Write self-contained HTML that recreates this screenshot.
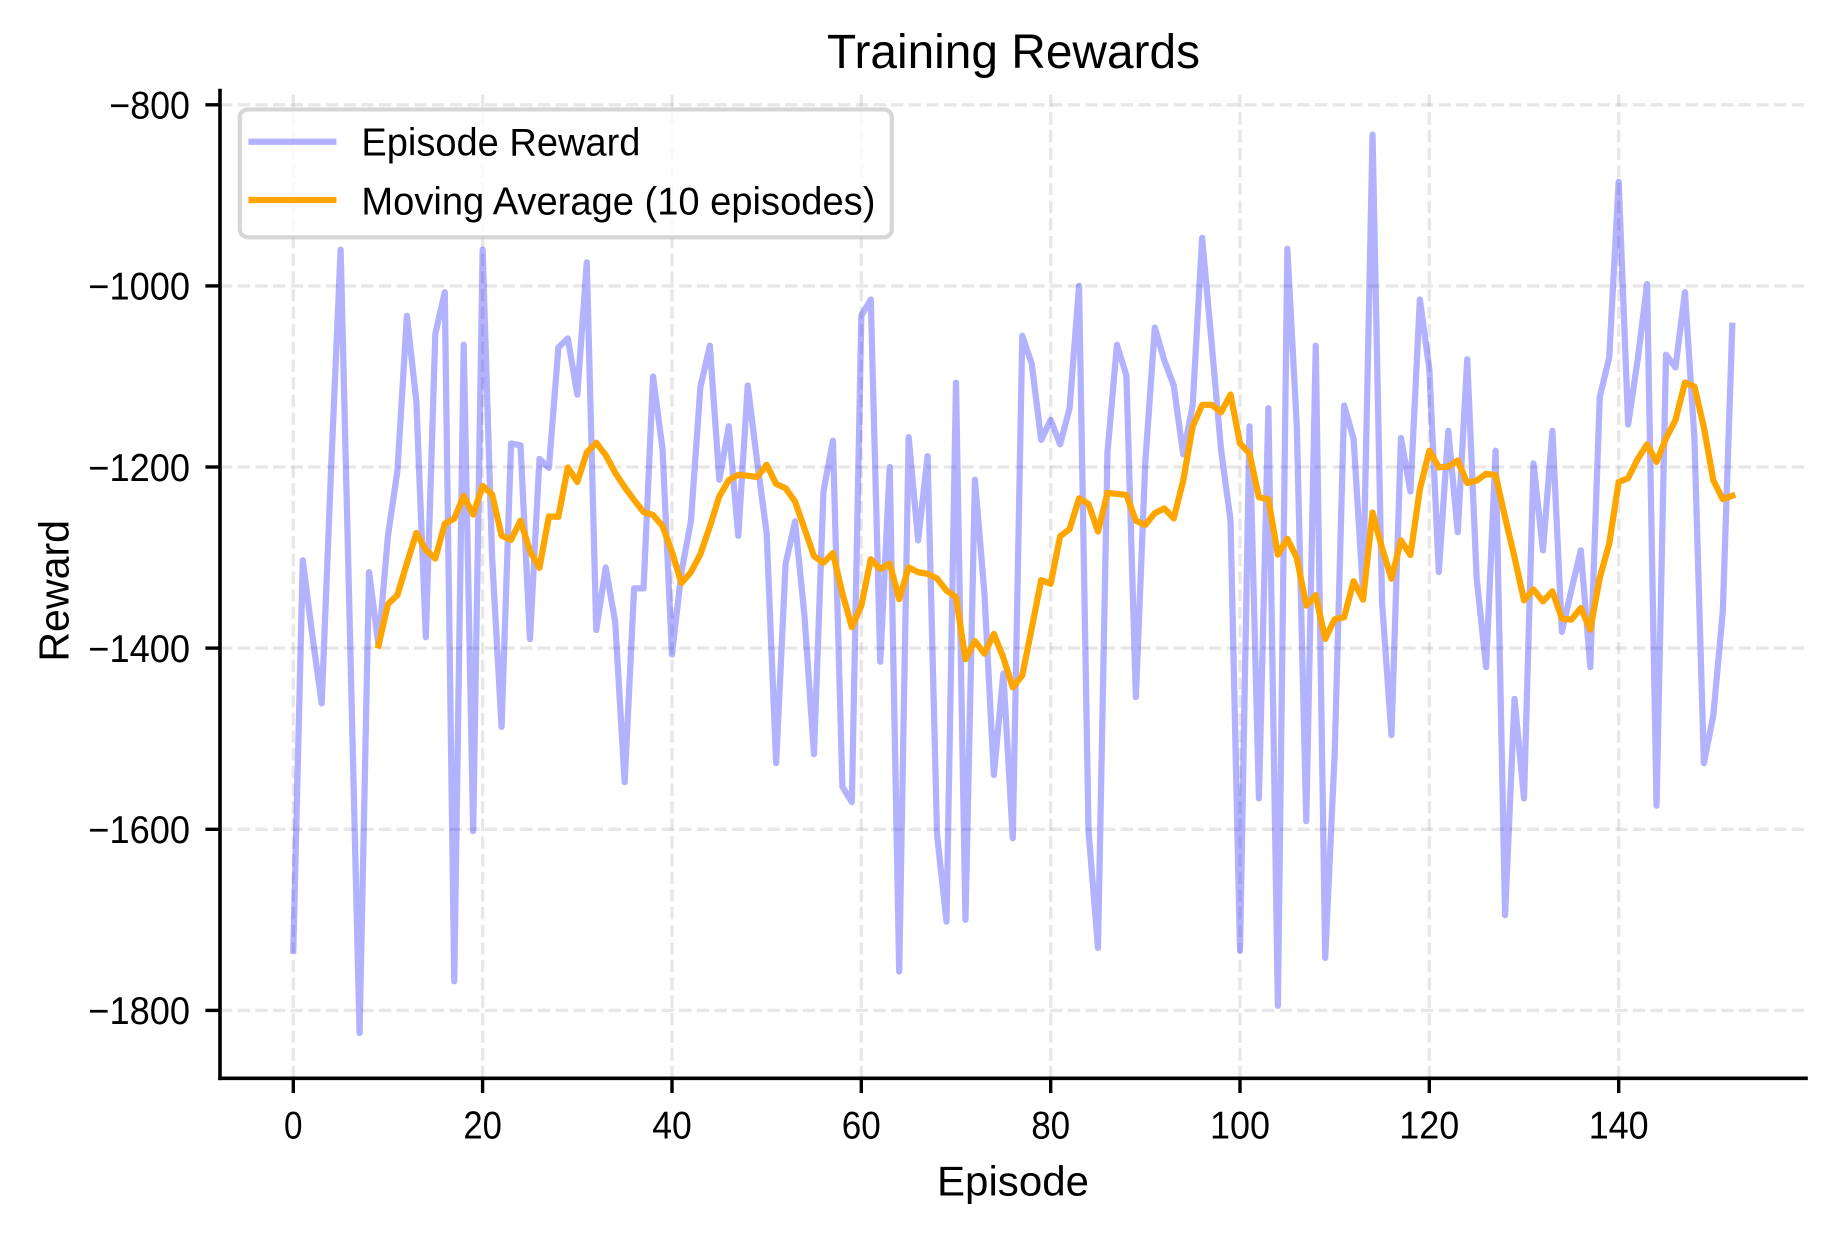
<!DOCTYPE html>
<html>
<head>
<meta charset="utf-8">
<style>
  html,body{margin:0;padding:0;background:#ffffff;}
  svg{display:block;}
  text{font-family:"Liberation Sans", Arial, sans-serif; fill:#000;}
</style>
</head>
<body>
<svg id="chart" xmlns="http://www.w3.org/2000/svg" width="1834" height="1234" viewBox="0 0 1834 1234">
  <rect x="0" y="0" width="1834" height="1234" fill="#ffffff"/>

  <!-- grid -->
  <g stroke="#b0b0b0" stroke-opacity="0.3" stroke-width="3.33" stroke-dasharray="12.33 5.33" fill="none">
    <line x1="293.3" y1="1078.3" x2="293.3" y2="90.5"/>
    <line x1="482.6" y1="1078.3" x2="482.6" y2="90.5"/>
    <line x1="672.0" y1="1078.3" x2="672.0" y2="90.5"/>
    <line x1="861.3" y1="1078.3" x2="861.3" y2="90.5"/>
    <line x1="1050.7" y1="1078.3" x2="1050.7" y2="90.5"/>
    <line x1="1240.0" y1="1078.3" x2="1240.0" y2="90.5"/>
    <line x1="1429.3" y1="1078.3" x2="1429.3" y2="90.5"/>
    <line x1="1618.7" y1="1078.3" x2="1618.7" y2="90.5"/>
    <line x1="220" y1="104.8" x2="1806" y2="104.8"/>
    <line x1="220" y1="285.9" x2="1806" y2="285.9"/>
    <line x1="220" y1="467.0" x2="1806" y2="467.0"/>
    <line x1="220" y1="648.1" x2="1806" y2="648.1"/>
    <line x1="220" y1="829.3" x2="1806" y2="829.3"/>
    <line x1="220" y1="1010.4" x2="1806" y2="1010.4"/>
  </g>

  <!-- series -->
  <polyline id="blue" fill="none" stroke="#0000ff" stroke-opacity="0.3" stroke-width="6.25" stroke-linejoin="round" stroke-linecap="square" points=""/>
  <polyline id="orange" fill="none" stroke="#ffa500" stroke-width="6.25" stroke-linejoin="round" stroke-linecap="square" points=""/>

  <!-- spines -->
  <g stroke="#000" stroke-width="3.6" stroke-linecap="square" fill="none">
    <line x1="220" y1="90.5" x2="220" y2="1078.3"/>
    <line x1="220" y1="1078.3" x2="1806" y2="1078.3"/>
  </g>

  <!-- ticks -->
  <g stroke="#000" stroke-width="3.4" fill="none">
    <line x1="205.4" y1="104.8" x2="220" y2="104.8"/>
    <line x1="205.4" y1="285.9" x2="220" y2="285.9"/>
    <line x1="205.4" y1="467.0" x2="220" y2="467.0"/>
    <line x1="205.4" y1="648.1" x2="220" y2="648.1"/>
    <line x1="205.4" y1="829.3" x2="220" y2="829.3"/>
    <line x1="205.4" y1="1010.4" x2="220" y2="1010.4"/>
    <line x1="293.3" y1="1078.3" x2="293.3" y2="1093"/>
    <line x1="482.6" y1="1078.3" x2="482.6" y2="1093"/>
    <line x1="672.0" y1="1078.3" x2="672.0" y2="1093"/>
    <line x1="861.3" y1="1078.3" x2="861.3" y2="1093"/>
    <line x1="1050.7" y1="1078.3" x2="1050.7" y2="1093"/>
    <line x1="1240.0" y1="1078.3" x2="1240.0" y2="1093"/>
    <line x1="1429.3" y1="1078.3" x2="1429.3" y2="1093"/>
    <line x1="1618.7" y1="1078.3" x2="1618.7" y2="1093"/>
  </g>

  <!-- y tick labels -->
  <g font-size="38.5" text-anchor="end">
    <text x="190" y="118.6" textLength="80.7" lengthAdjust="spacingAndGlyphs">−800</text>
    <text x="190" y="299.7" textLength="101.7" lengthAdjust="spacingAndGlyphs">−1000</text>
    <text x="190" y="480.8" textLength="101.7" lengthAdjust="spacingAndGlyphs">−1200</text>
    <text x="190" y="661.9" textLength="101.7" lengthAdjust="spacingAndGlyphs">−1400</text>
    <text x="190" y="843.1" textLength="101.7" lengthAdjust="spacingAndGlyphs">−1600</text>
    <text x="190" y="1024.2" textLength="101.7" lengthAdjust="spacingAndGlyphs">−1800</text>
  </g>

  <!-- x tick labels -->
  <g font-size="38.5" text-anchor="middle">
    <text x="293.3" y="1138.3" textLength="18.5" lengthAdjust="spacingAndGlyphs">0</text>
    <text x="482.6" y="1138.3" textLength="38.5" lengthAdjust="spacingAndGlyphs">20</text>
    <text x="672.0" y="1138.3" textLength="39.5" lengthAdjust="spacingAndGlyphs">40</text>
    <text x="861.3" y="1138.3" textLength="39" lengthAdjust="spacingAndGlyphs">60</text>
    <text x="1050.7" y="1138.3" textLength="39" lengthAdjust="spacingAndGlyphs">80</text>
    <text x="1240.0" y="1138.3" textLength="60" lengthAdjust="spacingAndGlyphs">100</text>
    <text x="1429.3" y="1138.3" textLength="60" lengthAdjust="spacingAndGlyphs">120</text>
    <text x="1618.7" y="1138.3" textLength="60" lengthAdjust="spacingAndGlyphs">140</text>
  </g>

  <!-- axis labels -->
  <text x="1013" y="1195.5" font-size="42" text-anchor="middle" textLength="152" lengthAdjust="spacingAndGlyphs">Episode</text>
  <text x="0" y="0" font-size="42" text-anchor="middle" textLength="141.7" lengthAdjust="spacingAndGlyphs" transform="translate(68.3,590.8) rotate(-90)">Reward</text>

  <!-- title -->
  <text x="1013.5" y="68" font-size="48" text-anchor="middle" textLength="373" lengthAdjust="spacingAndGlyphs">Training Rewards</text>

  <!-- legend -->
  <rect x="239.8" y="109.4" width="652" height="127.9" rx="8" ry="8" fill="#ffffff" fill-opacity="0.8" stroke="#cccccc" stroke-opacity="0.8" stroke-width="4.17"/>
  <line x1="251.5" y1="141.7" x2="333.3" y2="141.7" stroke="#0000ff" stroke-opacity="0.3" stroke-width="6.25" stroke-linecap="square"/>
  <line x1="251.5" y1="200" x2="333.3" y2="200" stroke="#ffa500" stroke-width="6.25" stroke-linecap="square"/>
  <text x="361.4" y="155.5" font-size="38.5" textLength="279" lengthAdjust="spacingAndGlyphs">Episode Reward</text>
  <text x="361.4" y="214.5" font-size="38.5" textLength="514" lengthAdjust="spacingAndGlyphs">Moving Average (10 episodes)</text>
</svg>

<script>
(function(){
  var d = [
    -1734,-1303,-1385,-1461,-1200,-960,-1390,-1825,-1316,-1397,
    -1276,-1204,-1033,-1128,-1388,-1053,-1007,-1768,-1065,-1602,
    -960,-1300,-1487,-1174,-1176,-1390,-1191,-1201,-1068,-1058,
    -1120,-974,-1380,-1311,-1371,-1548,-1334,-1334,-1100,-1180,
    -1407,-1316,-1260,-1112,-1066,-1214,-1155,-1276,-1110,-1194,
    -1273,-1527,-1307,-1260,-1365,-1517,-1227,-1171,-1553,-1570,
    -1033,-1015,-1415,-1200,-1757,-1167,-1281,-1188,-1606,-1702,
    -1107,-1700,-1214,-1339,-1540,-1428,-1610,-1055,-1086,-1170,
    -1148,-1175,-1135,-1000,-1602,-1731,-1184,-1065,-1099,-1454,
    -1194,-1046,-1082,-1110,-1186,-1132,-947,-1063,-1181,-1259,
    -1734,-1155,-1566,-1135,-1795,-959,-1155,-1591,-1066,-1742,
    -1517,-1132,-1169,-1339,-833,-1349,-1496,-1168,-1227,-1015,
    -1092,-1316,-1160,-1272,-1081,-1323,-1421,-1182,-1695,-1456,
    -1566,-1196,-1292,-1160,-1382,-1336,-1292,-1421,-1123,-1079,
    -885,-1153,-1082,-998,-1574,-1076,-1090,-1007,-1168,-1527,
    -1474,-1359,-1044
  ];
  function X(e){ return 293.3 + 9.467*e; }
  function Y(v){ return 285.9 + (-1000 - v)*0.9056; }
  var bp = [];
  for (var i=0;i<d.length;i++){ bp.push(X(i).toFixed(2)+','+Y(d[i]).toFixed(2)); }
  document.getElementById('blue').setAttribute('points', bp.join(' '));
  var op = [];
  for (var j=9;j<d.length;j++){
    var s=0; for (var k=j-9;k<=j;k++){ s+=d[k]; }
    op.push(X(j).toFixed(2)+','+Y(s/10).toFixed(2));
  }
  document.getElementById('orange').setAttribute('points', op.join(' '));
})();
</script>
</body>
</html>
